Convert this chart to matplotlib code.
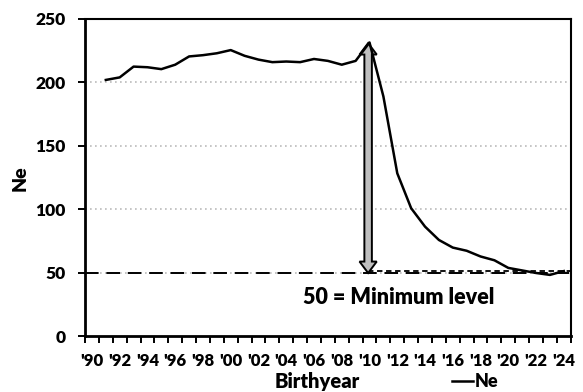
import numpy as np
import matplotlib
matplotlib.use('Agg')
from matplotlib import pyplot as plt
from matplotlib.patches import Polygon

plt.rcParams['font.family'] = ['Lato', 'DejaVu Sans']
plt.rcParams['font.weight'] = 'heavy'
W = 'heavy'

# Ne per birthyear
years = list(range(1991, 2025))
ne = [202, 204, 212.5, 212, 210.5, 214, 220.5, 221.5, 223, 225.5,
      221, 218, 216, 216.5, 216, 218.5, 217, 214, 217, 231.5,
      189, 128.5, 101, 86.5, 76, 70, 67.5, 63, 60, 54,
      52, 50, 48.5, 51.5]
min_level = 50
arrow_year = 2009.9
arrow_top = 231
year_labels = ["'%02d" % (y % 100) for y in range(1990, 2025, 2)]

fig = plt.figure(figsize=(5.83, 3.92), dpi=100)
ax = fig.add_axes([0.1458, 0.1416, 0.8332, 0.81])

# gridlines (gray dotted)
for g in [50, 100, 150, 200]:
    ax.axhline(g, color='#bbbbbb', lw=1.2, ls=(0, (1, 2)), zorder=1)

# minimum level line
ax.axhline(min_level, color='black', lw=1.4, ls=(0, (7, 4)), zorder=2)
ax.plot([arrow_year, 2024.5], [min_level + 1.3, min_level + 1.3], color='black',
        lw=1.3, ls=(0, (3, 2)), zorder=2)

ax.plot(years, ne, color='black', lw=1.8, zorder=4, label='Ne')

# double-headed block arrow
sw, hw, hl = 0.27, 0.62, 9
verts = [(arrow_year, arrow_top), (arrow_year + hw, arrow_top - hl),
         (arrow_year + sw, arrow_top - hl), (arrow_year + sw, min_level + hl),
         (arrow_year + hw, min_level + hl), (arrow_year, min_level),
         (arrow_year - hw, min_level + hl), (arrow_year - sw, min_level + hl),
         (arrow_year - sw, arrow_top - hl), (arrow_year - hw, arrow_top - hl)]
ax.add_patch(Polygon(verts, closed=True, facecolor='#bfbfbf', edgecolor='black',
                     lw=1.4, zorder=3))

ax.text(2012.1, 31, '50 = Minimum level', ha='center', va='center',
        fontsize=15.5, fontweight=W)

ax.set_xlim(1989.5, 2024.5)
ax.set_ylim(0, 250)
ax.set_xticks(range(1990, 2025, 2))
ax.set_xticklabels(year_labels)
ax.set_xticks(np.arange(1989.5, 2025, 1), minor=True)
ax.tick_params(axis='x', which='major', length=0, pad=12, labelsize=12)
ax.tick_params(axis='x', which='minor', length=5, width=1.4, direction='out')
ax.set_yticks([0, 50, 100, 150, 200, 250])
ax.tick_params(axis='y', length=5, width=1.4, labelsize=12.5, pad=9)
for lab in ax.get_xticklabels() + ax.get_yticklabels():
    lab.set_fontweight(W)

for s in ax.spines.values():
    s.set_linewidth(1.5)
ax.spines['left'].set_linewidth(2)
ax.spines['bottom'].set_linewidth(2)

ax.set_ylabel('Ne', fontsize=14, fontweight=W, labelpad=5)
fig.text(0.544, 0.003, 'Birthyear', ha='center', va='bottom', fontsize=14.5,
         fontweight=W)
leg = ax.legend(loc='upper left', bbox_to_anchor=(0.74, -0.093), frameon=False,
                handlelength=1.2, handletextpad=0.1, borderaxespad=0,
                prop={'weight': W, 'size': 13})

fig.savefig('out.png', dpi=100)
